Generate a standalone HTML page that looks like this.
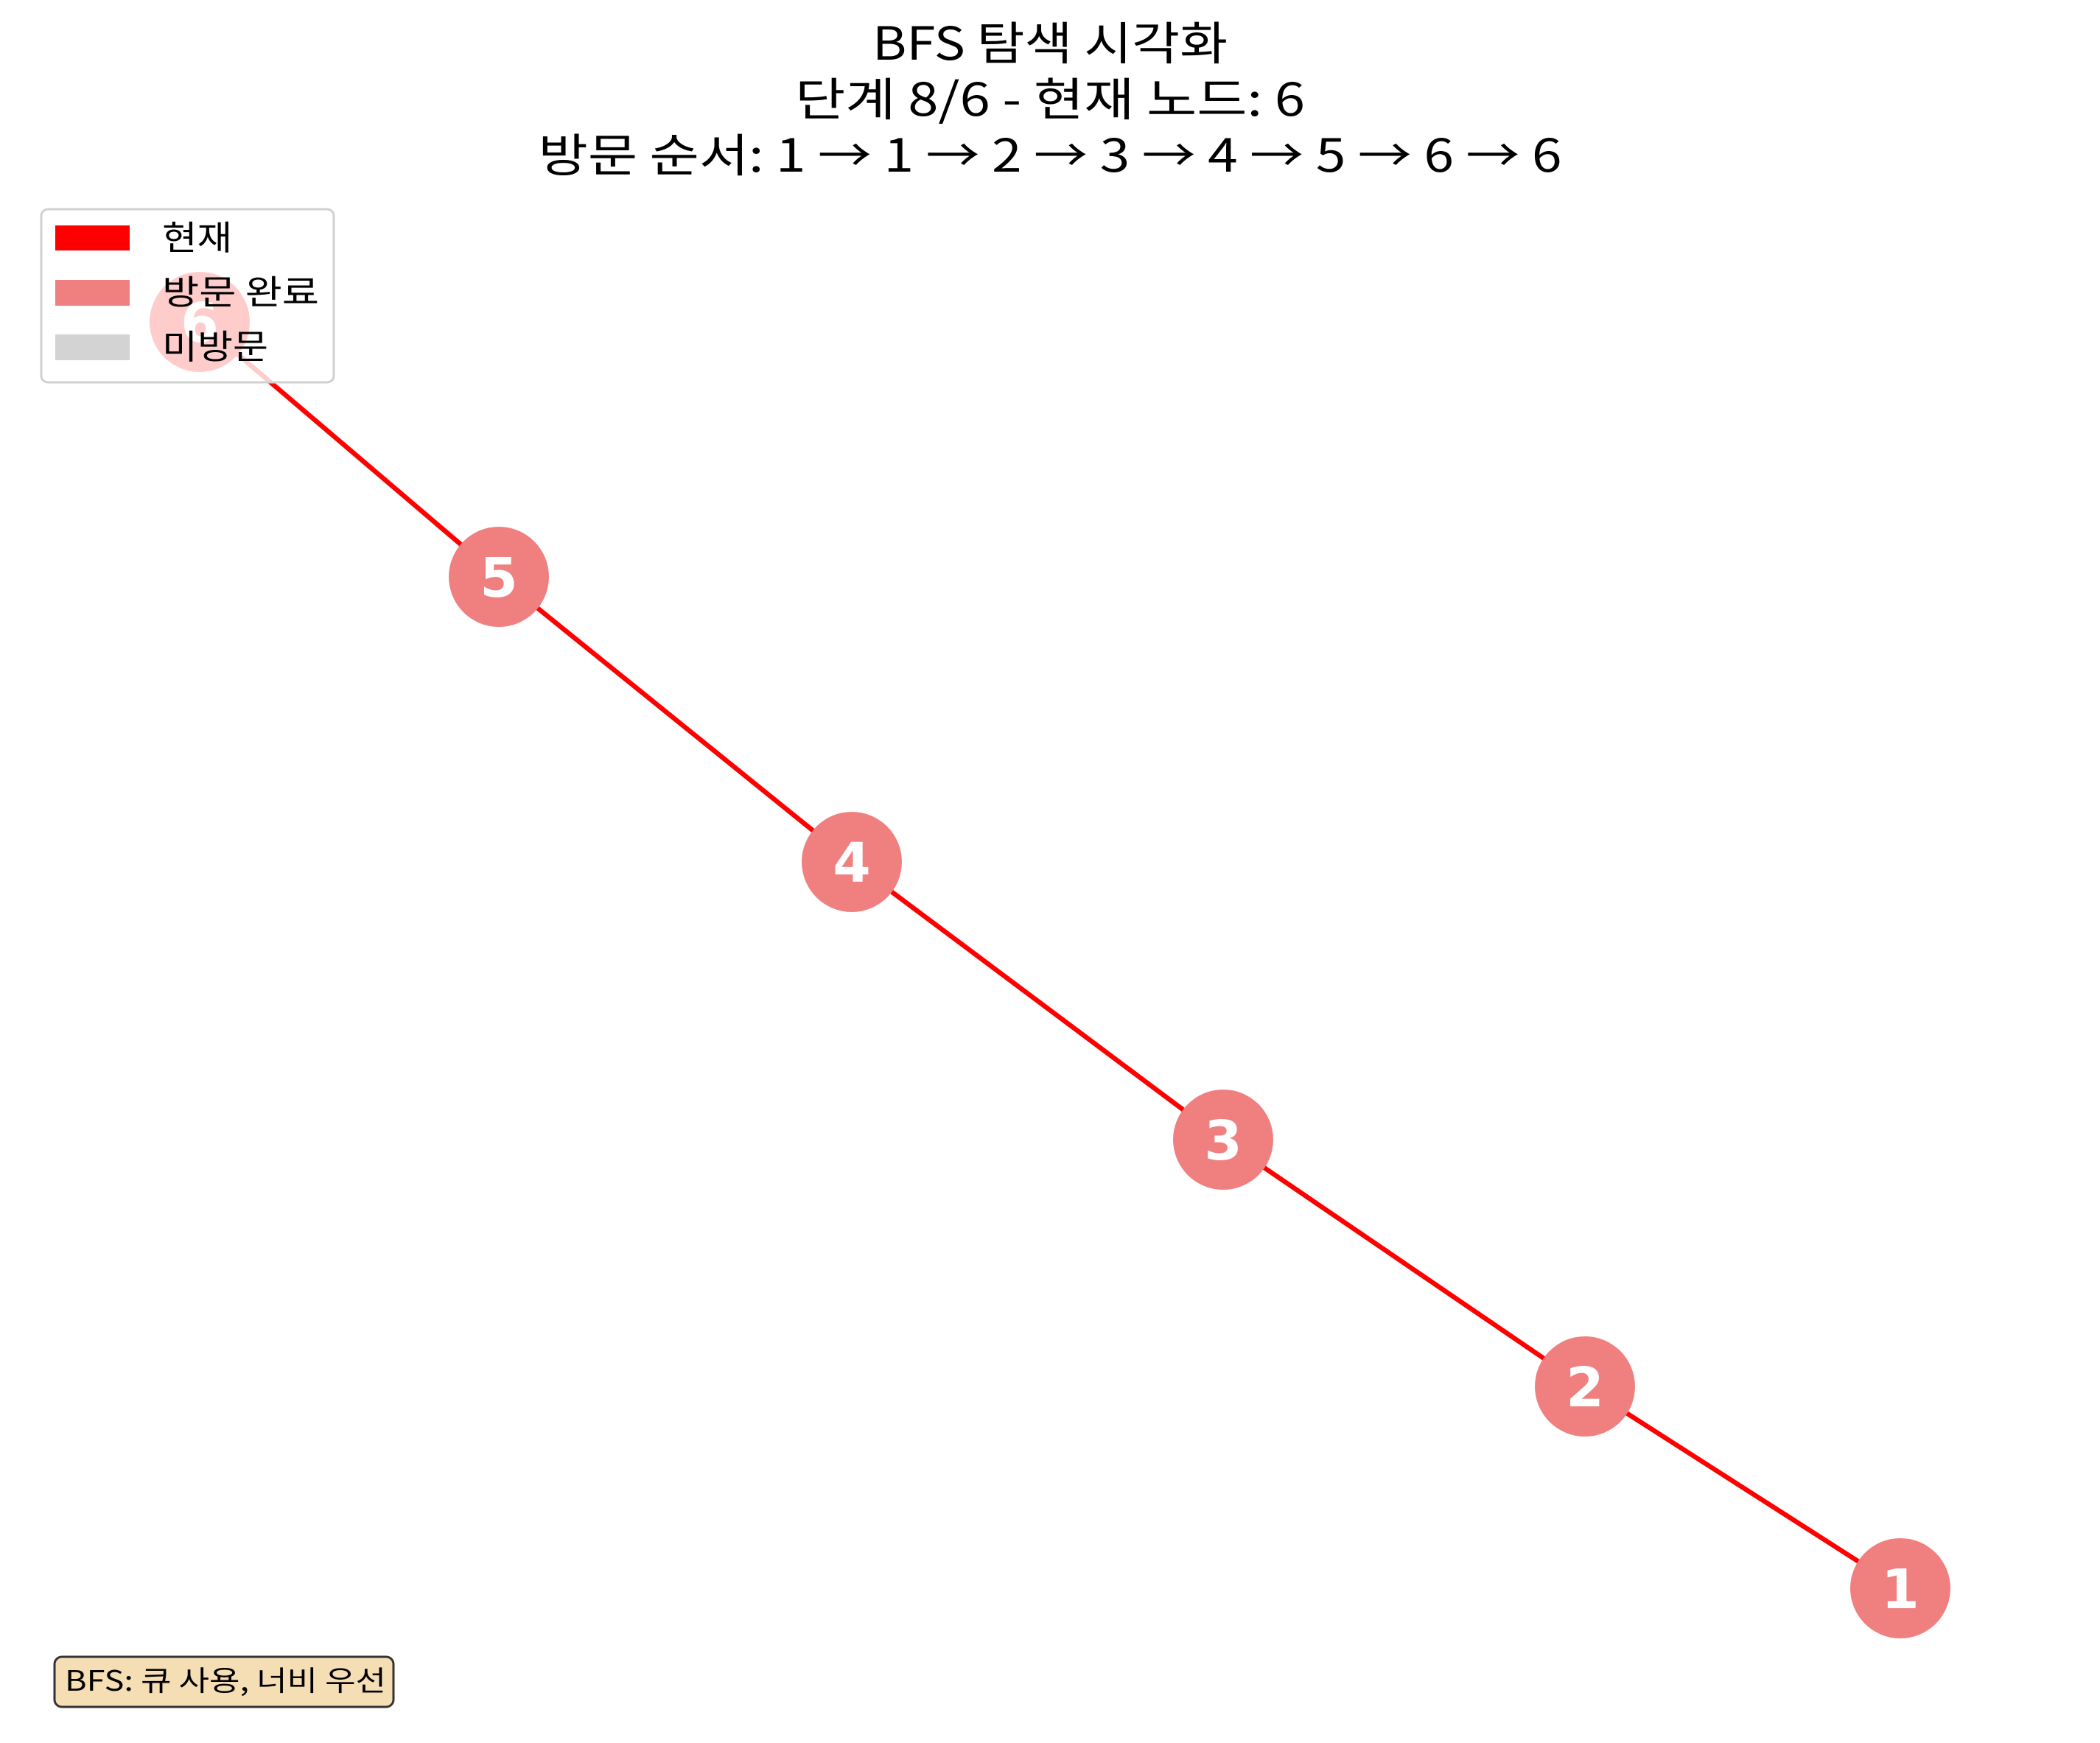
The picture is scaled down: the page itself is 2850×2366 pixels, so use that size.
<!DOCTYPE html>
<html><head><meta charset="utf-8"><style>
html,body{margin:0;padding:0;background:#fff;}
svg{display:block;}
text{font-family:"Noto Sans CJK KR","Liberation Sans",sans-serif;}
</style></head><body>
<svg id="chart" width="2850" height="2366" viewBox="0 0 2850 2366" xmlns="http://www.w3.org/2000/svg">
<rect width="2850" height="2366" fill="#fff"/>
<g font-size="62" text-anchor="middle" fill="#000">
<text x="1425" y="81" textLength="482" lengthAdjust="spacingAndGlyphs">BFS 탐색 시각화</text>
<text x="1425" y="157" textLength="692" lengthAdjust="spacingAndGlyphs">단계 8/6 - 현재 노드: 6</text>
<text x="1425" y="233" textLength="1389" lengthAdjust="spacingAndGlyphs">방문 순서: 1 → 1 → 2 → 3 → 4 → 5 → 6 → 6</text>
</g>
<g id="edges"></g>
<g id="nodes"></g>
<g>
<rect x="56" y="284" width="397" height="235" rx="9" fill="#fff" fill-opacity="0.8" stroke="#d0d0d0" stroke-width="3"/>
<rect x="75" y="306" width="101" height="34" fill="#ff0000"/>
<text x="220" y="339" font-size="46" textLength="95" lengthAdjust="spacingAndGlyphs">현재</text>
<rect x="75" y="380" width="101" height="35" fill="#f08080"/>
<text x="220" y="413" font-size="46" textLength="213" lengthAdjust="spacingAndGlyphs">방문 완료</text>
<rect x="75" y="454" width="101" height="35" fill="#d3d3d3"/>
<text x="220" y="487" font-size="46" textLength="144" lengthAdjust="spacingAndGlyphs">미방문</text>
</g>
<g>
<rect x="74" y="2249" width="460" height="68" rx="10" fill="#f5deb3" stroke="#333" stroke-width="3"/>
<text x="88" y="2295" font-size="38" textLength="436" lengthAdjust="spacingAndGlyphs">BFS: 큐 사용, 너비 우선</text>
</g>
</svg>
<script>
const nodeIds = [1, 2, 3, 4, 5, 6];
const nodeX = [2579, 2151, 1660, 1156, 677, 271];
const nodeY = [2156, 1882, 1547, 1170, 783, 437];
const nodeState = ['visited', 'visited', 'visited', 'visited', 'visited', 'current'];
const edgeFrom = [6, 5, 4, 3, 2];
const edgeTo = [5, 4, 3, 2, 1];
const colors = {current: '#ff0000', visited: '#f08080', unvisited: '#d3d3d3'};
const NS = 'http://www.w3.org/2000/svg';
const eg = document.getElementById('edges');
const ng = document.getElementById('nodes');
function px(id){ return nodeX[nodeIds.indexOf(id)]; }
function py(id){ return nodeY[nodeIds.indexOf(id)]; }
for (let i = 0; i < edgeFrom.length; i++) {
  const l = document.createElementNS(NS, 'line');
  l.setAttribute('x1', px(edgeFrom[i])); l.setAttribute('y1', py(edgeFrom[i]));
  l.setAttribute('x2', px(edgeTo[i])); l.setAttribute('y2', py(edgeTo[i]));
  l.setAttribute('stroke', '#ff0000'); l.setAttribute('stroke-width', '6.5');
  
  
  eg.appendChild(l);
}
for (let i = 0; i < nodeIds.length; i++) {
  const c = document.createElementNS(NS, 'circle');
  c.setAttribute('cx', nodeX[i]); c.setAttribute('cy', nodeY[i]); c.setAttribute('r', 68);
  c.setAttribute('fill', colors[nodeState[i]]);
  
  
  ng.appendChild(c);
  const t = document.createElementNS(NS, 'text');
  t.setAttribute('x', nodeX[i]); t.setAttribute('y', nodeY[i] + 27);
  t.setAttribute('text-anchor', 'middle'); t.setAttribute('font-size', '74');
  t.setAttribute('font-weight', 'bold'); t.setAttribute('fill', '#fff');
  t.setAttribute('style', 'font-family:"DejaVu Sans",sans-serif');
  t.textContent = nodeIds[i];
  
  
  ng.appendChild(t);
}
</script>
</body></html>
